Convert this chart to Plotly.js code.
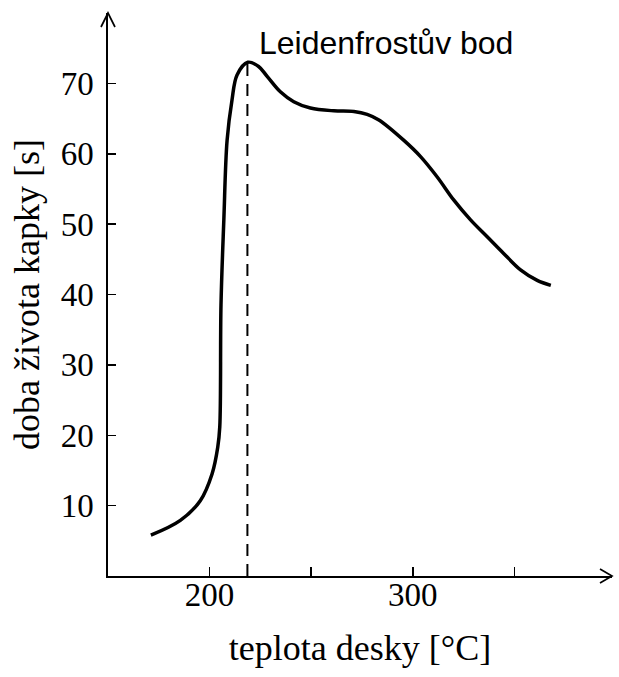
<!DOCTYPE html>
<html>
<head>
<meta charset="utf-8">
<script src="https://cdn.plot.ly/plotly-3.0.1.min.js"></script>
<style>html,body{margin:0;padding:0;background:#fff;}#chart{width:619px;height:677px;}</style>
</head>
<body>
<div id="chart"></div>
<script>
// Data
const temperature = [171.1, 185.6, 195.4, 201.2, 204.0, 205.0, 205.6, 207.0, 208.6, 211.0, 213.5, 218.8, 224.1, 228.3, 234.8, 241.4, 249.6, 261.1, 271.0, 277.5, 283.3, 295.6, 303.8, 312.0, 320.2, 328.4, 336.6, 344.8, 353.0, 361.2, 367.9];
const lifetime    = [5.8, 7.9, 10.7, 14.5, 18.3, 21.2, 38.5, 50.6, 61.9, 67.6, 71.2, 73.0, 72.4, 71.0, 68.8, 67.4, 66.5, 66.1, 66.0, 65.6, 64.8, 61.9, 59.6, 56.7, 53.4, 50.6, 48.2, 45.8, 43.5, 42.0, 41.3];
const leidenfrostX = [218.6, 218.6];
const leidenfrostY = [0, 73.0];
const xTickVals = [200, 250, 300, 350];
const xTickText = ['200', '', '300', ''];
const yTickVals = [10, 20, 30, 40, 50, 60, 70];
const yTickText = ['10', '20', '30', '40', '50', '60', '70'];
const annotationText = 'Leidenfrostův bod';
const xTitle = 'teplota desky [°C]';
const yTitle = 'doba života kapky [s]';

const serif = 'Liberation Serif, Times New Roman, serif';

const traces = [
  {
    x: leidenfrostX, y: leidenfrostY, mode: 'lines', type: 'scatter',
    line: {color: '#000', width: 2, dash: '12px,8px'}, hoverinfo: 'skip'
  },
  {
    x: temperature, y: lifetime, mode: 'lines', type: 'scatter',
    line: {color: '#000', width: 3.5, shape: 'spline', smoothing: 1}
  }
];

const layout = {
  width: 619, height: 677,
  margin: {l: 108, r: 7, t: 13, b: 101},
  paper_bgcolor: '#fff', plot_bgcolor: '#fff',
  showlegend: false,
  xaxis: {
    range: [150, 398], showgrid: false, zeroline: false,
    showline: true, linecolor: '#000', linewidth: 1.7,
    ticks: 'inside', ticklen: 9, tickwidth: 1.5, tickcolor: '#000',
    tickmode: 'array', tickvals: xTickVals, ticktext: xTickText,
    tickfont: {family: serif, size: 33, color: '#000'},
    ticklabelstandoff: -11,
    title: {text: xTitle, font: {family: serif, size: 36, color: '#000'}, standoff: 22},
    automargin: false
  },
  yaxis: {
    range: [0, 80], showgrid: false, zeroline: false,
    showline: true, linecolor: '#000', linewidth: 1.7,
    ticks: 'inside', ticklen: 8, tickwidth: 1.5, tickcolor: '#000',
    tickmode: 'array', tickvals: yTickVals, ticktext: yTickText,
    tickfont: {family: serif, size: 33, color: '#000'},
    ticklabelstandoff: 6,
    title: {text: yTitle, font: {family: serif, size: 36, color: '#000'}, standoff: 10},
    automargin: false
  },
  shapes: [
    {type: 'path', xref: 'paper', yref: 'paper', xsizemode: 'pixel', ysizemode: 'pixel',
     xanchor: 1, yanchor: 0, path: 'M-12,7 L0,0 L-12,-7', line: {color: '#000', width: 1.7}},
    {type: 'path', xref: 'paper', yref: 'paper', xsizemode: 'pixel', ysizemode: 'pixel',
     xanchor: 0, yanchor: 1, path: 'M-7,-14 L0,0 L7,-14', line: {color: '#000', width: 1.7}}
  ],
  annotations: [
    {x: 287, y: 75.8, xref: 'x', yref: 'y', text: annotationText, showarrow: false,
     xanchor: 'center', yanchor: 'middle',
     font: {family: 'Liberation Sans, Arial, sans-serif', size: 32, color: '#000'}}
  ]
};

Plotly.newPlot('chart', traces, layout, {displayModeBar: false, staticPlot: true});
</script>
</body>
</html>
